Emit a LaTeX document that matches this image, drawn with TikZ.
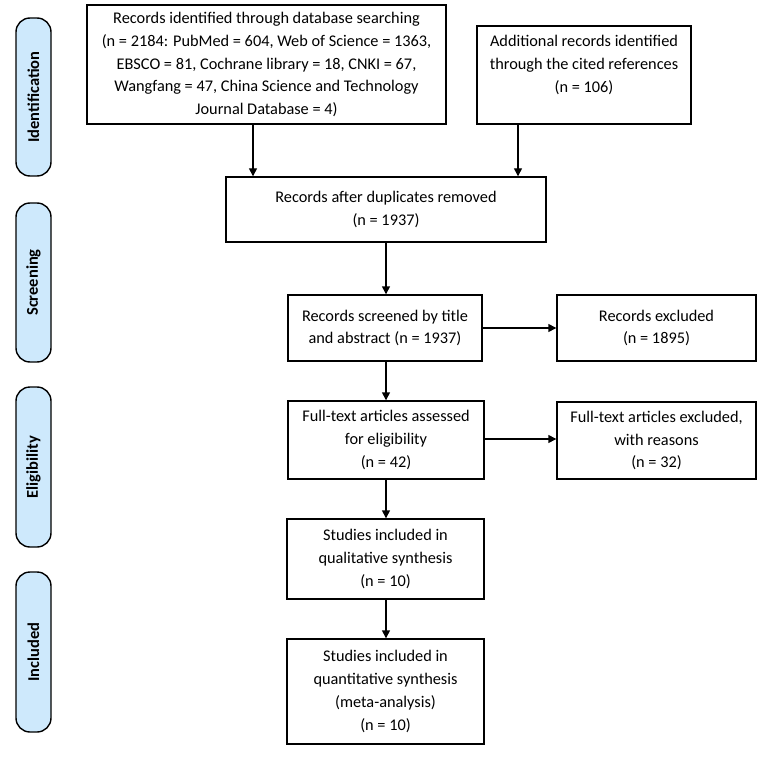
\documentclass[tikz,border=0pt]{standalone}
\usepackage{fontspec}
\setmainfont{Carlito}
\usetikzlibrary{arrows.meta}
\definecolor{phase}{RGB}{206,233,252}
\begin{document}
\begin{tikzpicture}[x=1pt,y=-1pt,
  box/.style={draw,line width=1.4pt,align=center,inner sep=2pt,font=\fontsize{16.3}{22.8}\selectfont},
  phasebox/.style={draw,line width=1.4pt,fill=phase,rounded corners=14pt,minimum height=35pt,rotate=90,font=\bfseries\fontsize{16.5}{18}\selectfont,inner sep=0pt},
  arr/.style={line width=1.4pt,-{Triangle[length=8pt,width=8pt]}}]
\useasboundingbox (0,0) rectangle (765,759);
% phase labels
\node[phasebox,minimum width=158pt] (p1) at (33.5,97) {Identification};
\node[phasebox,minimum width=159pt] (p2) at (33.5,282.5) {Screening};
\node[phasebox,minimum width=160pt] (p3) at (33.5,467) {Eligibility};
\node[phasebox,minimum width=160pt] (p4) at (33.5,652) {Included};
% boxes
\node[box,minimum width=359pt,minimum height=119pt] (b1) at (266.5,64.5) {Records identified through database searching\\(n = 2184: PubMed = 604, Web of Science = 1363,\\EBSCO = 81, Cochrane library = 18, CNKI = 67,\\Wangfang = 47, China Science and Technology\\Journal Database = 4)};
\node[box,minimum width=214pt,minimum height=98pt] (b2) at (584,75) {Additional records identified\\through the cited references\\(n = 106)\\\mbox{}};
\node[box,minimum width=320pt,minimum height=65pt] (b3) at (386,209.5) {Records after duplicates removed\\(n = 1937)};
\node[box,minimum width=194pt,minimum height=66pt] (b4) at (385,328) {Records screened by title\\and abstract (n = 1937)};
\node[box,minimum width=199pt,minimum height=66pt] (b5) at (656.5,328) {Records excluded\\(n = 1895)};
\node[box,minimum width=196pt,minimum height=78pt] (b6) at (386,440) {Full-text articles assessed\\for eligibility\\(n = 42)};
\node[box,minimum width=199pt,minimum height=77pt] (b7) at (656.5,440.5) {Full-text articles excluded,\\with reasons\\(n = 32)};
\node[box,minimum width=197pt,minimum height=80pt] (b8) at (385.5,559) {Studies included in\\qualitative synthesis\\(n = 10)};
\node[box,minimum width=197pt,minimum height=105pt] (b9) at (385.5,691.5) {Studies included in\\quantitative synthesis\\(meta-analysis)\\(n = 10)};
% arrows
\draw[arr] ([xshift=-13.5pt]b1.south) -- ([xshift=-13.5pt]b1.south |- b3.north);
\draw[arr] ([xshift=-66pt]b2.south) -- ([xshift=-66pt]b2.south |- b3.north);
\draw[arr] (b3.south) -- (b3.south |- b4.north);
\draw[arr] (b4.east) -- (b5.west);
\draw[arr] ([xshift=1pt]b4.south) -- ([xshift=1pt]b4.south |- b6.north);
\draw[arr] ([yshift=1pt]b6.east) -- ([yshift=1pt]b6.east -| b7.west);
\draw[arr] (b6.south) -- (b6.south |- b8.north);
\draw[arr] ([xshift=0.5pt]b8.south) -- ([xshift=0.5pt]b8.south |- b9.north);
\end{tikzpicture}
\end{document}
